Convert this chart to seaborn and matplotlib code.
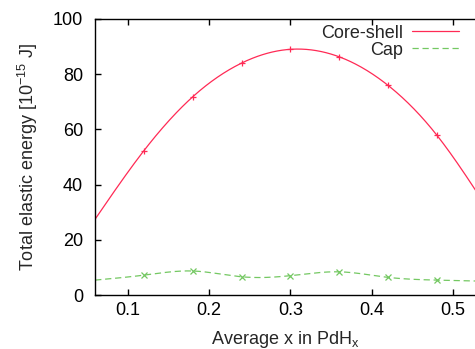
import numpy as np
import pandas as pd
import matplotlib
matplotlib.use("Agg")
import matplotlib.pyplot as plt
import seaborn as sns
from matplotlib.lines import Line2D

# ---- data ----
x_vals = [0.06, 0.12, 0.18, 0.24, 0.30, 0.36, 0.42, 0.48, 0.54]
core_shell = [27.5, 52.3, 71.8, 84.0, 89.0, 86.3, 76.0, 58.0, 32.5]
cap = [5.4, 7.2, 8.7, 6.6, 7.0, 8.4, 6.4, 5.4, 5.0]
x_ticks = [0.1, 0.2, 0.3, 0.4, 0.5]
y_ticks = [0, 20, 40, 60, 80, 100]
series_names = ["Core-shell", "Cap"]

sns.set_style("ticks")
plt.rcParams["font.family"] = ["Liberation Sans", "DejaVu Sans"]
plt.rcParams["mathtext.fontset"] = "custom"
plt.rcParams["mathtext.rm"] = "Liberation Sans"
plt.rcParams["mathtext.it"] = "Liberation Sans"


def natural_spline(x, y, n=400):
    x = np.asarray(x, float)
    y = np.asarray(y, float)
    m = len(x)
    h = np.diff(x)
    A = np.zeros((m, m))
    b = np.zeros(m)
    A[0, 0] = A[-1, -1] = 1
    for i in range(1, m - 1):
        A[i, i - 1] = h[i - 1]
        A[i, i] = 2 * (h[i - 1] + h[i])
        A[i, i + 1] = h[i]
        b[i] = 3 * ((y[i + 1] - y[i]) / h[i] - (y[i] - y[i - 1]) / h[i - 1])
    c = np.linalg.solve(A, b)
    xs = np.linspace(x[0], x[-1], n)
    idx = np.clip(np.searchsorted(x, xs) - 1, 0, m - 2)
    dx = xs - x[idx]
    bb = (y[idx + 1] - y[idx]) / h[idx] - h[idx] * (2 * c[idx] + c[idx + 1]) / 3
    dd = (c[idx + 1] - c[idx]) / (3 * h[idx])
    ys = y[idx] + bb * dx + c[idx] * dx ** 2 + dd * dx ** 3
    return xs, ys


red = "#ff2a55"
green = "#74c862"
FS = 13

fig = plt.figure(figsize=(4.75, 3.49), dpi=100)
ax = fig.add_axes([0.2, 0.1547, 0.8, 0.791])

xs, ys = natural_spline(x_vals, core_shell)
line_df = pd.DataFrame({"x": xs, "y": ys})
sns.lineplot(data=line_df, x="x", y="y", ax=ax, color=red, lw=0.9)
xs2, ys2 = natural_spline(x_vals, cap)
line_df2 = pd.DataFrame({"x": xs2, "y": ys2})
sns.lineplot(data=line_df2, x="x", y="y", ax=ax, color=green, lw=0.9,
             linestyle=(0, (5, 3)))

pts = pd.DataFrame({"x": x_vals[1:-1], "core": core_shell[1:-1], "cap": cap[1:-1]})
ax.plot(pts["x"], pts["core"], linestyle="none", marker="+", ms=5, mew=0.9, color=red)
ax.plot(pts["x"], pts["cap"], linestyle="none", marker="x", ms=4, mew=0.9, color=green)

ax.set_xlim(0.0598, 0.5272)
ax.set_ylim(0, 100)
ax.set_xticks(x_ticks)
ax.set_xticklabels([f"{t:.1f}" for t in x_ticks])
ax.set_yticks(y_ticks)
ax.set_yticklabels([str(t) for t in y_ticks])

for s in ["left", "bottom", "top"]:
    ax.spines[s].set_visible(True)
    ax.spines[s].set_color("black")
    ax.spines[s].set_linewidth(1.0)
ax.spines["right"].set_visible(False)

ax.tick_params(axis="both", direction="in", length=4, width=1.0, labelsize=FS,
               colors="black")
ax.tick_params(axis="x", top=True, pad=5)
ax.tick_params(axis="y", pad=8.5)

ax.set_xlabel("Average x in PdH$_\\mathregular{x}$", fontsize=FS, labelpad=7)
ax.set_ylabel("Total elastic energy [10$^{\\mathregular{-15}}$ J]", fontsize=FS, labelpad=9)

handles = [Line2D([], [], color=red, lw=0.9),
           Line2D([], [], color=green, lw=0.9, linestyle=(0, (5, 3)))]
ax.legend(handles, series_names, loc="upper right", bbox_to_anchor=(0.976, 1.005),
          frameon=False, markerfirst=False, fontsize=FS, handlelength=2.6,
          handletextpad=0.5, labelspacing=0.0, borderaxespad=0)

fig.savefig("out.png", dpi=100)
